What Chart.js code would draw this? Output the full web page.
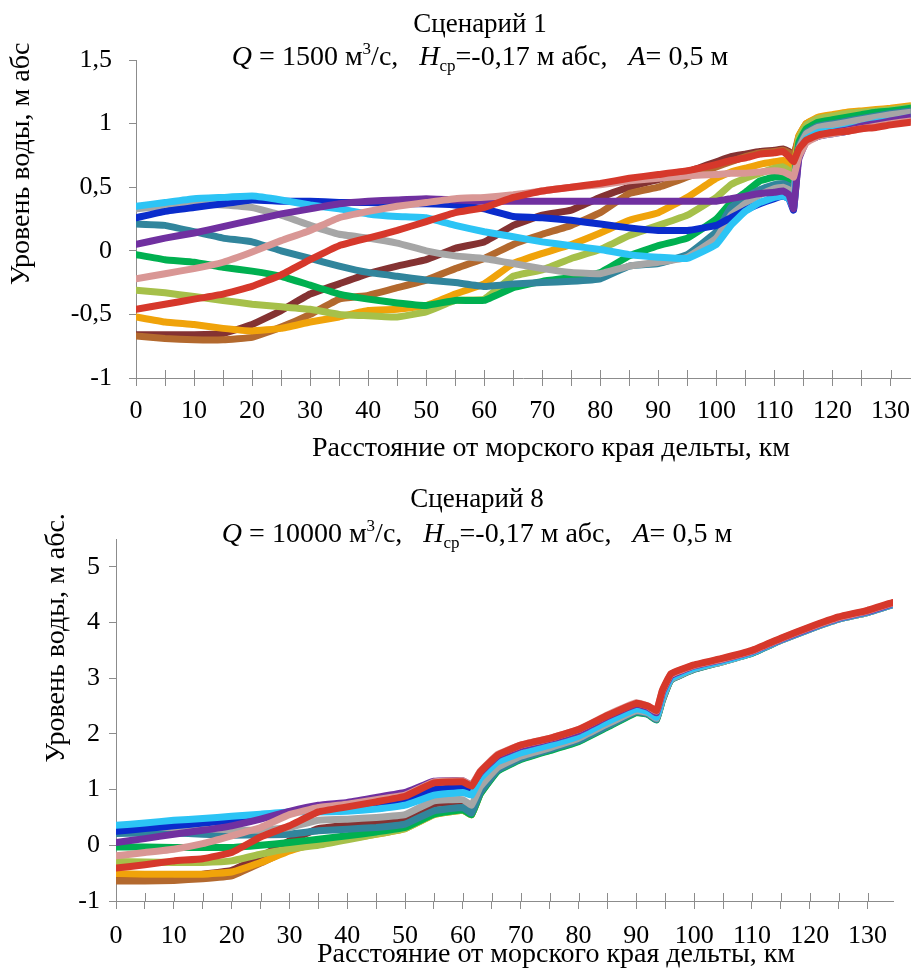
<!DOCTYPE html>
<html>
<head>
<meta charset="utf-8">
<script src="https://cdn.jsdelivr.net/npm/chart.js@4.4.0/dist/chart.umd.min.js"></script>
<style>
  body { margin: 0; background: #fff; width: 920px; height: 969px; overflow: hidden; position: relative; }
  canvas { position: absolute; left: 0; }
</style>
</head>
<body>
<canvas id="chart1" width="920" height="470" style="top:0"></canvas>
<canvas id="chart2" width="920" height="499" style="top:470px"></canvas>
<script>
// distance from the sea edge of the delta, km
const km1 = [0,5,10,15,20,25,30,35,40,45,50,55,60,65,70,75,80,85,90,95,100,102.5,105,107.5,110,111.5,112.5,113.3,114.2,115.5,117.5,120,122.5,125,127.5,130,133.5];
const km2 = [0,5,10,15,20,25,30,35,40,45,50,55,60,61.5,63,66,70,75,80,85,90,92,93.5,94.5,96,100,105,110,115,120,125,130,134.3];

// scenario 1, water level, m abs
const red1 = [-0.46,-0.42,-0.38,-0.34,-0.28,-0.19,-0.07,0.04,0.10,0.16,0.23,0.30,0.34,0.42,0.47,0.50,0.53,0.57,0.60,0.63,0.68,0.71,0.73,0.76,0.77,0.78,0.74,0.70,0.80,0.87,0.91,0.93,0.94,0.96,0.97,0.99,1.01];
const pink1 = [-0.22,-0.18,-0.14,-0.09,-0.01,0.08,0.16,0.26,0.31,0.35,0.38,0.41,0.42,0.44,0.47,0.50,0.52,0.55,0.57,0.59,0.60,0.61,0.61,0.62,0.63,0.62,0.60,0.58,0.74,0.85,0.90,0.92,0.94,0.96,0.98,1.00,1.02];
const purple1 = [0.05,0.10,0.14,0.19,0.24,0.29,0.33,0.37,0.39,0.40,0.41,0.40,0.39,0.39,0.39,0.39,0.39,0.39,0.39,0.39,0.39,0.41,0.43,0.45,0.46,0.47,0.44,0.33,0.72,0.86,0.90,0.93,0.95,0.98,1.00,1.02,1.05];
const lblue1 = [0.35,0.38,0.41,0.42,0.43,0.40,0.36,0.33,0.29,0.27,0.26,0.20,0.15,0.11,0.07,0.04,0.01,-0.03,-0.05,-0.06,0.05,0.20,0.31,0.38,0.42,0.43,0.41,0.34,0.78,0.88,0.93,0.94,0.96,0.98,1.01,1.02,1.05];
const dblue1 = [0.26,0.31,0.34,0.37,0.40,0.39,0.39,0.38,0.38,0.37,0.37,0.36,0.33,0.27,0.26,0.24,0.21,0.18,0.16,0.16,0.20,0.26,0.32,0.37,0.41,0.43,0.41,0.32,0.75,0.86,0.90,0.92,0.94,0.97,0.99,1.01,1.04];
const grey1 = [0.33,0.35,0.37,0.36,0.34,0.28,0.20,0.13,0.10,0.06,0.00,-0.04,-0.06,-0.10,-0.14,-0.17,-0.18,-0.12,-0.09,-0.05,0.10,0.28,0.37,0.44,0.49,0.50,0.48,0.44,0.80,0.92,0.97,0.99,1.01,1.03,1.05,1.07,1.09];
const teal1 = [0.21,0.20,0.15,0.10,0.07,0.00,-0.06,-0.12,-0.17,-0.20,-0.23,-0.25,-0.28,-0.26,-0.25,-0.24,-0.22,-0.12,-0.10,-0.03,0.15,0.34,0.42,0.48,0.52,0.53,0.51,0.48,0.82,0.93,0.98,1.00,1.02,1.04,1.06,1.08,1.10];
const green1 = [-0.03,-0.07,-0.09,-0.13,-0.16,-0.20,-0.27,-0.34,-0.38,-0.41,-0.43,-0.39,-0.39,-0.29,-0.24,-0.21,-0.17,-0.04,0.04,0.10,0.25,0.38,0.46,0.55,0.58,0.58,0.56,0.53,0.85,0.96,1.01,1.03,1.05,1.07,1.09,1.10,1.12];
const olive1 = [-0.31,-0.33,-0.36,-0.39,-0.42,-0.44,-0.46,-0.50,-0.51,-0.52,-0.48,-0.39,-0.38,-0.20,-0.15,-0.06,0.01,0.12,0.20,0.28,0.42,0.52,0.57,0.61,0.65,0.66,0.63,0.60,0.88,0.99,1.04,1.06,1.08,1.09,1.10,1.11,1.13];
const orange1 = [-0.52,-0.56,-0.58,-0.61,-0.63,-0.61,-0.56,-0.52,-0.47,-0.46,-0.43,-0.34,-0.26,-0.10,-0.02,0.05,0.14,0.24,0.30,0.42,0.57,0.62,0.65,0.68,0.70,0.71,0.68,0.64,0.90,1.00,1.05,1.07,1.09,1.10,1.11,1.12,1.14];
const brown1 = [-0.67,-0.69,-0.70,-0.70,-0.68,-0.60,-0.50,-0.38,-0.35,-0.29,-0.23,-0.14,-0.06,0.05,0.13,0.20,0.30,0.45,0.50,0.58,0.66,0.70,0.74,0.77,0.78,0.79,0.77,0.74,0.90,1.00,1.04,1.06,1.07,1.08,1.09,1.10,1.12];
const maroon1 = [-0.66,-0.66,-0.66,-0.65,-0.58,-0.47,-0.34,-0.26,-0.18,-0.12,-0.07,0.02,0.07,0.20,0.28,0.32,0.42,0.50,0.56,0.62,0.70,0.74,0.76,0.78,0.79,0.80,0.78,0.75,0.88,0.98,1.02,1.04,1.05,1.06,1.07,1.08,1.10];

// scenario 8, water level, m abs
const red2 = [-0.41,-0.35,-0.28,-0.24,-0.13,0.15,0.35,0.60,0.69,0.78,0.88,1.12,1.14,1.06,1.32,1.62,1.80,1.92,2.08,2.33,2.55,2.50,2.42,2.78,3.08,3.24,3.36,3.50,3.72,3.92,4.10,4.22,4.36];
const pink2 = [-0.19,-0.13,-0.07,0.03,0.17,0.32,0.55,0.68,0.74,0.82,0.90,1.14,1.16,1.08,1.33,1.63,1.80,1.92,2.08,2.34,2.56,2.50,2.41,2.77,3.07,3.23,3.35,3.49,3.71,3.91,4.09,4.21,4.35];
const purple2 = [0.05,0.12,0.20,0.27,0.35,0.47,0.61,0.72,0.77,0.86,0.95,1.15,1.16,1.08,1.30,1.60,1.77,1.90,2.05,2.31,2.53,2.48,2.38,2.74,3.05,3.22,3.34,3.48,3.70,3.90,4.08,4.20,4.34];
const lblue2 = [0.36,0.40,0.45,0.48,0.52,0.56,0.60,0.60,0.61,0.65,0.72,0.90,0.95,0.90,1.20,1.50,1.66,1.80,1.96,2.22,2.45,2.40,2.30,2.66,3.00,3.18,3.31,3.46,3.69,3.89,4.07,4.19,4.33];
const dblue2 = [0.25,0.30,0.35,0.40,0.45,0.52,0.60,0.66,0.70,0.76,0.82,1.00,1.04,0.98,1.25,1.55,1.72,1.85,2.00,2.27,2.49,2.44,2.33,2.70,3.03,3.20,3.32,3.47,3.69,3.89,4.07,4.19,4.33];
const grey2 = [0.33,0.33,0.32,0.30,0.28,0.27,0.32,0.45,0.47,0.50,0.55,0.80,0.82,0.72,1.05,1.40,1.60,1.75,1.92,2.18,2.42,2.38,2.28,2.62,2.98,3.17,3.30,3.46,3.68,3.88,4.06,4.18,4.32];
const teal2 = [0.21,0.22,0.22,0.20,0.18,0.19,0.20,0.26,0.29,0.32,0.38,0.62,0.68,0.58,0.95,1.35,1.56,1.72,1.88,2.14,2.40,2.36,2.26,2.60,2.97,3.16,3.30,3.45,3.68,3.88,4.06,4.18,4.32];
const green2 = [-0.03,-0.03,-0.04,-0.04,-0.04,0.00,0.05,0.11,0.17,0.24,0.32,0.56,0.64,0.55,0.92,1.33,1.54,1.70,1.86,2.12,2.38,2.35,2.25,2.60,2.97,3.16,3.30,3.45,3.68,3.88,4.06,4.18,4.32];
const olive2 = [-0.29,-0.30,-0.31,-0.31,-0.28,-0.16,-0.06,0.00,0.10,0.20,0.30,0.55,0.63,0.55,0.92,1.34,1.55,1.71,1.87,2.13,2.39,2.36,2.27,2.62,2.98,3.17,3.31,3.46,3.69,3.89,4.07,4.19,4.33];
const orange2 = [-0.51,-0.52,-0.52,-0.52,-0.48,-0.31,-0.10,0.05,0.12,0.20,0.30,0.55,0.63,0.55,0.93,1.35,1.56,1.72,1.88,2.14,2.40,2.37,2.28,2.63,2.99,3.18,3.32,3.47,3.70,3.90,4.08,4.20,4.34];
const brown2 = [-0.64,-0.64,-0.63,-0.60,-0.55,-0.32,-0.08,0.06,0.13,0.21,0.31,0.56,0.64,0.56,0.94,1.36,1.57,1.73,1.89,2.15,2.41,2.38,2.29,2.64,3.00,3.19,3.33,3.47,3.70,3.90,4.08,4.20,4.34];
const maroon2 = [-0.63,-0.62,-0.60,-0.52,-0.45,-0.20,0.08,0.30,0.36,0.42,0.48,0.74,0.78,0.68,1.02,1.38,1.58,1.74,1.90,2.16,2.42,2.39,2.30,2.65,3.01,3.19,3.33,3.48,3.70,3.90,4.08,4.20,4.34];

// first colour is drawn on top
const colors = ['#d6382b', '#d99795', '#7030a0', '#2cc4f5', '#0a2ccc', '#a6a6a6', '#31859c', '#00b050', '#a6c04a', '#f0a30a', '#b3692e', '#843232'];

const serif = "'Liberation Serif', 'Times New Roman', serif";
const axisGrey = '#8c8c8c';
Chart.defaults.color = '#000';
Chart.defaults.font.family = serif;

function fmt(v) { return String(v).replace('.', ','); }

// title lines with italic symbols, sub- and superscripts
function drawRich(ctx, segs, cx, y, size) {
  const fontOf = s => (s.i ? 'italic ' : '') + Math.round((s.sub || s.sup) ? size * 0.62 : size) + 'px ' + serif;
  let w = 0;
  segs.forEach(s => { ctx.font = fontOf(s); w += ctx.measureText(s.t).width; });
  let x = cx - w / 2;
  ctx.textAlign = 'left';
  ctx.textBaseline = 'alphabetic';
  segs.forEach(s => {
    ctx.font = fontOf(s);
    const dy = s.sub ? size * 0.22 : s.sup ? -size * 0.4 : 0;
    ctx.fillText(s.t, x, y + dy);
    x += ctx.measureText(s.t).width;
  });
}

function textPlugin(t) {
  return {
    id: 'texts',
    beforeDatasetsDraw(chart) {
      // Excel-style cross tick marks on the x axis
      const xs = chart.scales.x, ctx = chart.ctx, b = chart.chartArea.bottom;
      ctx.save();
      ctx.strokeStyle = axisGrey;
      ctx.lineWidth = 1;
      xs.ticks.forEach(tk => {
        const px = Math.round(xs.getPixelForValue(tk.value)) + 0.5;
        ctx.beginPath(); ctx.moveTo(px, b - 8); ctx.lineTo(px, b); ctx.stroke();
      });
      ctx.restore();
    },
    afterDraw(chart) {
      const ctx = chart.ctx;
      ctx.save();
      ctx.fillStyle = '#000';
      ctx.font = t.headSize + 'px ' + serif;
      ctx.textAlign = 'center';
      ctx.textBaseline = 'alphabetic';
      ctx.fillText(t.head, t.cx, t.headY);
      drawRich(ctx, t.sub, t.cx, t.subY, t.size);
      ctx.font = t.size + 'px ' + serif;
      ctx.textAlign = 'center';
      ctx.textBaseline = 'middle';
      ctx.fillText(t.xTitle, t.xTitleX, t.xTitleY);
      ctx.translate(t.yTitleX, t.yTitleY);
      ctx.rotate(-Math.PI / 2);
      ctx.fillText(t.yTitle, 0, 0);
      ctx.restore();
    }
  };
}

function makeChart(id, km, series, cfg) {
  return new Chart(document.getElementById(id), {
    type: 'line',
    data: {
      labels: km,
      datasets: series.map((s, i) => ({
        data: s.map((v, j) => ({ x: km[j], y: v })),
        borderColor: colors[i],
        borderWidth: 7,
        pointRadius: 0,
        tension: 0.1,
        borderJoinStyle: 'round',
        borderCapStyle: 'round',
        fill: false
      }))
    },
    options: {
      responsive: false,
      animation: false,
      events: [],
      layout: { padding: cfg.pad },
      plugins: { legend: { display: false }, tooltip: { enabled: false } },
      scales: {
        x: {
          type: 'linear', min: 0, max: cfg.xMax,
          border: { color: axisGrey, width: 1 },
          grid: { drawOnChartArea: false, drawTicks: true, tickLength: 8, color: axisGrey },
          ticks: {
            stepSize: 5, includeBounds: false, maxRotation: 0, autoSkip: false,
            padding: cfg.xPad, font: { size: cfg.tick, family: serif },
            callback: v => (v % 10 === 0 ? String(v) : '')
          },
          afterFit: s => { s.height = cfg.xH; }
        },
        y: {
          min: cfg.yMin, max: cfg.yMax,
          border: { color: axisGrey, width: 1 },
          grid: { drawOnChartArea: false, drawTicks: true, tickLength: 7, color: axisGrey },
          ticks: {
            stepSize: cfg.yStep, includeBounds: false,
            padding: cfg.yPad, font: { size: cfg.tick, family: serif },
            callback: v => fmt(v)
          },
          afterFit: s => { s.width = cfg.yW; }
        }
      }
    },
    plugins: [textPlugin(cfg.text)]
  });
}

makeChart('chart1', km1,
  [red1, pink1, purple1, lblue1, dblue1, grey1, teal1, green1, olive1, orange1, brown1, maroon1],
  {
    pad: { top: 60, right: 0, bottom: 0, left: 0 },
    xMax: 133.5, xH: 92, xPad: 10, yMin: -1, yMax: 1.5, yStep: 0.5, yW: 136, yPad: 17, tick: 26,
    text: {
      size: 28, headSize: 27, cx: 480, head: 'Сценарий 1', headY: 32,
      sub: [{ t: 'Q', i: true }, { t: ' = 1500 м' }, { t: '3', sup: true }, { t: '/с,   ' },
            { t: 'H', i: true }, { t: 'ср', sub: true }, { t: '=-0,17 м абс,   ' },
            { t: 'A', i: true }, { t: '= 0,5 м' }],
      subY: 65,
      xTitle: 'Расстояние от морского края дельты, км', xTitleX: 551, xTitleY: 449,
      yTitle: 'Уровень воды, м абс', yTitleX: 22, yTitleY: 164
    }
  });

makeChart('chart2', km2,
  [red2, pink2, purple2, lblue2, dblue2, grey2, teal2, green2, olive2, orange2, brown2, maroon2],
  {
    pad: { top: 69, right: 27, bottom: 0, left: 0 },
    xMax: 134.4, xH: 68, xPad: 12, yMin: -1, yMax: 5.5, yStep: 1, yW: 116, yPad: 9, tick: 26,
    text: {
      size: 28, headSize: 27, cx: 477, head: 'Сценарий 8', headY: 37,
      sub: [{ t: 'Q', i: true }, { t: ' = 10000 м' }, { t: '3', sup: true }, { t: '/с,   ' },
            { t: 'H', i: true }, { t: 'ср', sub: true }, { t: '=-0,17 м абс,   ' },
            { t: 'A', i: true }, { t: '= 0,5 м' }],
      subY: 72,
      xTitle: 'Расстояние от морского края дельты, км', xTitleX: 556, xTitleY: 485,
      yTitle: 'Уровень воды, м абс.', yTitleX: 57, yTitleY: 168
    }
  });
</script>
</body>
</html>
